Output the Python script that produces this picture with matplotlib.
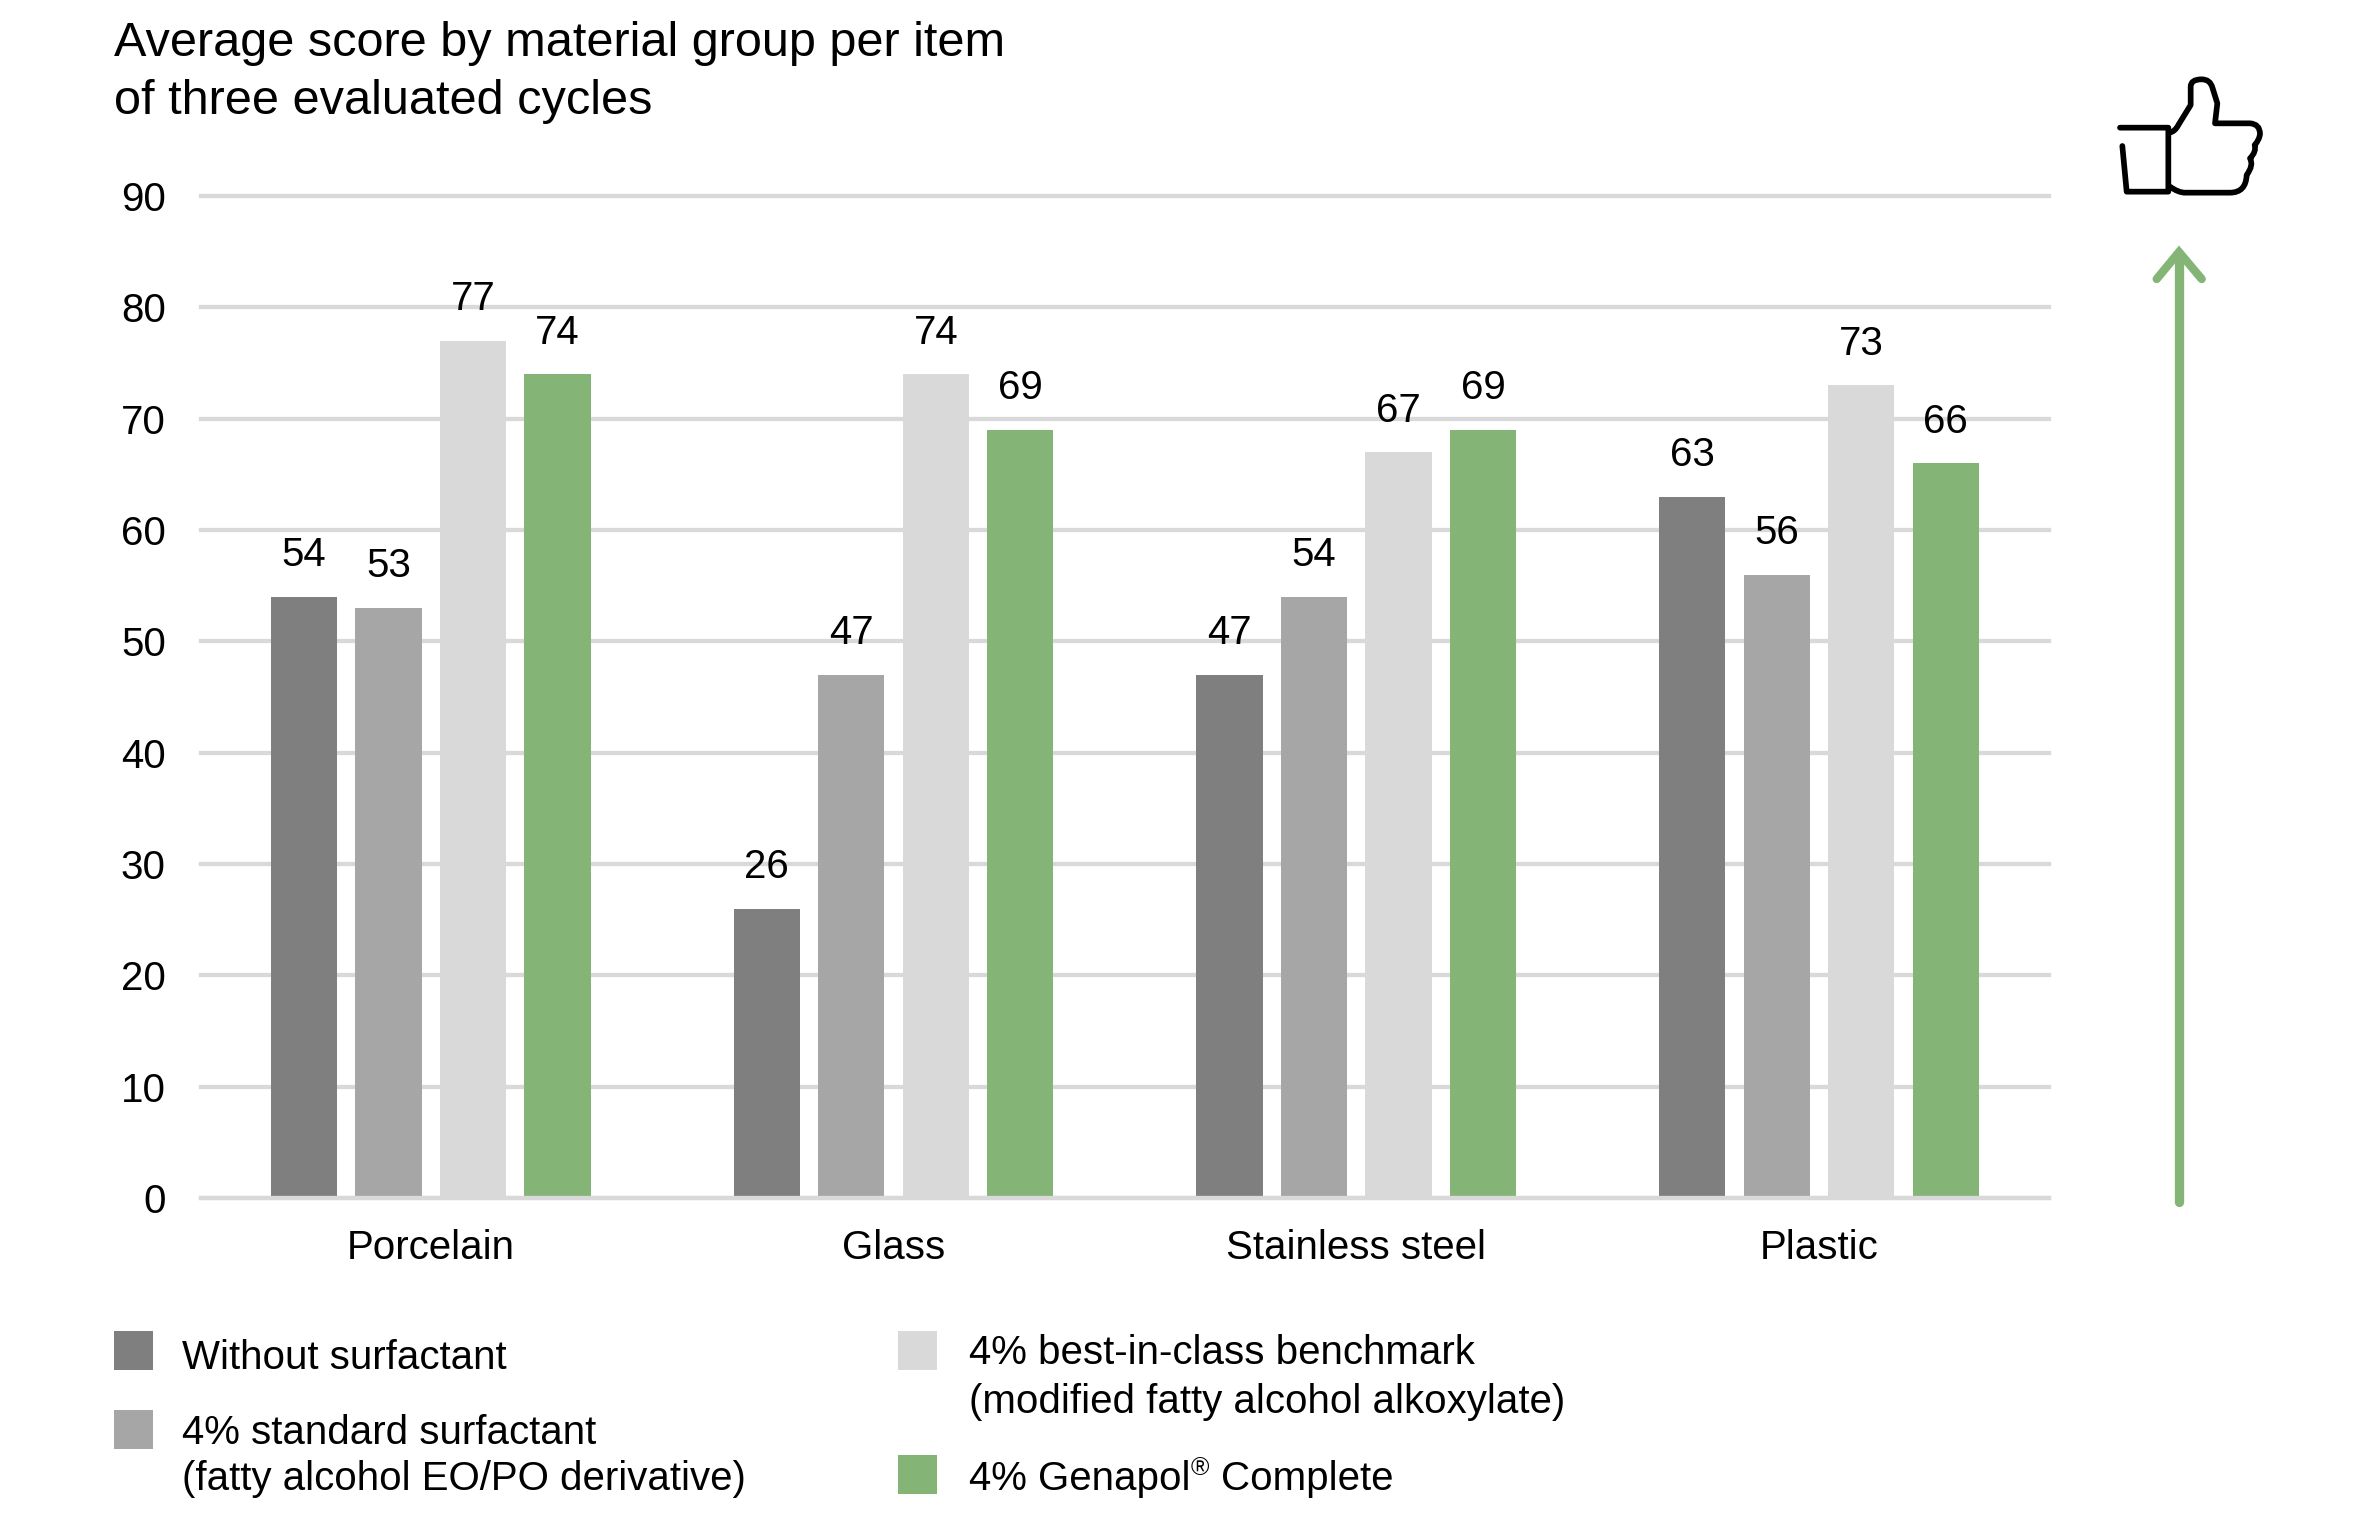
import matplotlib.pyplot as plt
from matplotlib.patches import Rectangle
from matplotlib.path import Path
from matplotlib.patches import PathPatch

plt.rcParams['font.family'] = ['Liberation Sans', 'DejaVu Sans']

# Datos
materials = ["Porcelain", "Glass", "Stainless steel", "Plastic"]
without_surfactant = [54, 26, 47, 63]
standard_surfactant = [53, 47, 54, 56]
benchmark = [77, 74, 67, 73]
genapol = [74, 69, 69, 66]
y_ticks = [0, 10, 20, 30, 40, 50, 60, 70, 80, 90]

W, H = 2375, 1513
GREY_LINE = '#D9D9D9'
GREEN = '#84B577'
FS = 29

fig = plt.figure(figsize=(W / 100, H / 100), dpi=100)

# plot area in pixels of the image
left, right, top, bottom = 200.5, 2049, 196, 1198
ax = fig.add_axes([left / W, 1 - bottom / H, (right - left) / W, (bottom - top) / H])

spacing = 462.7
first_center = 430.8
ax.set_xlim((left - first_center) / spacing, (right - first_center) / spacing)
ax.set_ylim(0, 90)

bar_width = 0.143
series = [
    (without_surfactant, -0.274, '#7F7F7F'),
    (standard_surfactant, -0.0913, '#A6A6A6'),
    (benchmark, 0.0913, '#D9D9D9'),
    (genapol, 0.274, GREEN),
]
for values, offset, color in series:
    xs = [i + offset for i in range(len(materials))]
    ax.bar(xs, values, width=bar_width, color=color, zorder=2)
    for x, v in zip(xs, values):
        ax.annotate(str(v), (x, v), xytext=(0, 22), textcoords='offset points',
                    ha='center', va='baseline', fontsize=FS, color='black', zorder=5)

ax.set_yticks(y_ticks)
ax.set_xticks(range(len(materials)))
ax.set_xticklabels(materials, fontsize=FS)
ax.tick_params(axis='y', length=0, pad=25, labelsize=FS)
ax.tick_params(axis='x', length=0, pad=22)
ax.grid(axis='y', color=GREY_LINE, linewidth=3.1, zorder=1)
ax.axhline(0, color=GREY_LINE, linewidth=3.1, zorder=3, clip_on=False)
for s in ax.spines.values():
    s.set_visible(False)
for gl in ax.get_ygridlines():
    gl.set_clip_on(False)
for lab in ax.get_yticklabels():
    lab.set_verticalalignment('center_baseline')

# overlay in image pixels for title, legend and icon
ov = fig.add_axes([0, 0, 1, 1], facecolor='none')
ov.set_xlim(0, W)
ov.set_ylim(H, 0)
ov.axis('off')

ov.text(114.5, 56, "Average score by material group per item", fontsize=35, va='baseline')
ov.text(114.5, 114, "of three evaluated cycles", fontsize=35, va='baseline')

# leyenda
legend_boxes = [(114, 1331, '#7F7F7F'), (114, 1410, '#A6A6A6'),
                (898, 1331, '#D9D9D9'), (898, 1455, GREEN)]
for x, y, c in legend_boxes:
    ov.add_patch(Rectangle((x, y), 39, 39, color=c, lw=0))

legend_lines = [
    (181.5, 1369, "Without surfactant"),
    (181.5, 1444.5, "4% standard surfactant"),
    (181.5, 1490.5, "(fatty alcohol EO/PO derivative)"),
    (969, 1364.5, "4% best-in-class benchmark"),
    (969, 1413, "(modified fatty alcohol alkoxylate)"),
]
for x, y, s in legend_lines:
    ov.text(x, y, s, fontsize=FS, va='baseline')

t1 = ov.text(969, 1490.5, "4% Genapol", fontsize=FS, va='baseline')
ov.annotate("®", xy=(1, 0), xycoords=t1, xytext=(0, 13), textcoords='offset points',
            fontsize=18, va='bottom')
ov.annotate("Complete", xy=(1, 0), xycoords=t1, xytext=(22, 0), textcoords='offset points',
            fontsize=FS, va='bottom')


def z(px, py):
    return (2080 + px / 3, 50 + py / 3)


def stroke(verts, codes, color='black', lw=4.1):
    ov.add_patch(PathPatch(Path([z(*v) for v in verts], codes), fill=False, edgecolor=color,
                           lw=lw, capstyle='round', joinstyle='round'))


M, L, C = Path.MOVETO, Path.LINETO, Path.CURVE3
stroke([(120, 233), (265, 233), (265, 425), (140, 425), (127, 288)], [M, L, L, L, L])
hand = [
    ((268, 248), M), ((285, 245), C), ((295, 225), C), ((332, 165), L), ((332, 110), L),
    ((332, 88), C), ((365, 88), C), ((390, 88), C), ((397, 112), C), ((412, 160), L),
    ((405, 220), L), ((510, 220), L), ((540, 222), C), ((540, 252), C), ((538, 270), C),
    ((524, 285), C), ((530, 305), C), ((510, 325), C), ((522, 345), C), ((500, 375), C),
    ((498, 428), C), ((450, 428), C), ((315, 428), L), ((295, 428), C), ((270, 410), C),
]
stroke([p for p, _ in hand], [c for _, c in hand])

# flecha verde
ov.plot([2179, 2179], [1202, 255], color=GREEN, lw=6.7, solid_capstyle='round')
ov.plot([2156.7, 2179, 2201.7], [279, 252, 279], color=GREEN, lw=6, solid_capstyle='round',
        solid_joinstyle='miter')

fig.savefig('out.png', dpi=100)
